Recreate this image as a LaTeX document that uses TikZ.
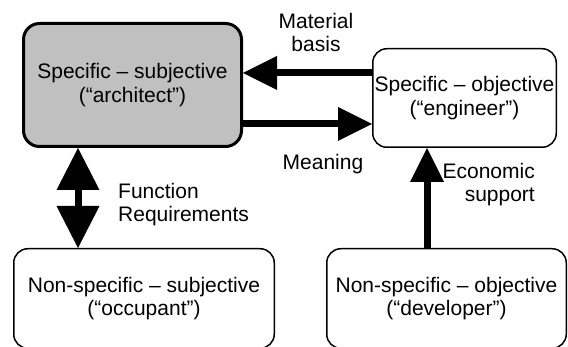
\documentclass[tikz,border=0pt]{standalone}
\usepackage{fontspec}
\setmainfont{Liberation Sans}
\definecolor{archgray}{RGB}{192, 192, 192}
\usetikzlibrary{arrows.meta, positioning}
\tikzset{
  rolebox/.style={draw, rounded corners=14pt, line width=1.5pt, inner sep=0pt, align=center,
    font=\fontsize{21pt}{23.5pt}\selectfont},
  flowlabel/.style={inner sep=0pt, font=\fontsize{21pt}{23.5pt}\selectfont},
  fat/.style={line width=7pt, -{Triangle[length=34pt, width=34pt, line width=0pt]}},
  fatboth/.style={line width=7pt, {Triangle[length=42pt, width=43pt, line width=0pt]}-{Triangle[length=42pt, width=43pt, line width=0pt]}}
}

\begin{document}
\begin{tikzpicture}[x=1pt, y=-1pt]
  \useasboundingbox (0,0) rectangle (568,347);

  \node[rolebox, fill=archgray, line width=3pt, rounded corners=16pt,
        minimum width=218pt, minimum height=123pt] (arch) at (132.5,85)
    {Specific – subjective\\(“architect”)};
  \node[rolebox, minimum width=183.5pt, minimum height=98.5pt] (eng) at (464.5,98)
    {Specific – objective\\(“engineer”)};
  \node[rolebox, minimum width=260.5pt, minimum height=99.5pt] (occ) at (144,298.5)
    {Non-specific – subjective\\(“occupant”)};
  \node[rolebox, minimum width=239.5pt, minimum height=99.5pt] (dev) at (446.5,298.5)
    {Non-specific – objective\\(“developer”)};

  \draw[fat] ([yshift=25pt]eng.west) -- ([yshift=12pt]arch.east);
  \draw[fat] ([yshift=-39pt]arch.east) -- ([yshift=-26pt]eng.west);
  \draw[fatboth] ([xshift=-54.5pt]arch.south) -- ([xshift=-66pt]occ.north);
  \draw[fat] ([xshift=-19.5pt]dev.north) -- ([xshift=-37.5pt]eng.south);

  \node[flowlabel, align=center, anchor=north] (mb) at (316,13) {Material\\basis};
  \node[flowlabel, anchor=base] (mn) at (323,170) {Meaning};
  \node[flowlabel, align=left, anchor=north west] (fr) at (118,183) {Function\\Requirements};
  \node[flowlabel, align=right, anchor=north east] (es) at (535,163) {Economic\\support};
\end{tikzpicture}
\end{document}
